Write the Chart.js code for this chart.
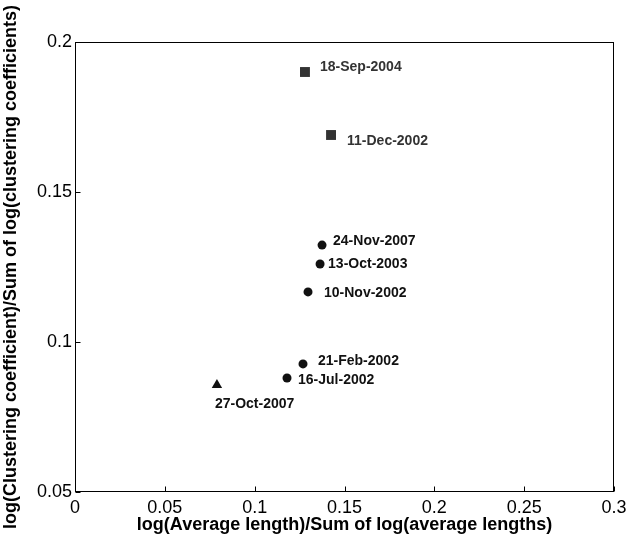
<!DOCTYPE html>
<html>
<head>
<meta charset="utf-8">
<script src="https://cdn.jsdelivr.net/npm/chart.js@4.4.0/dist/chart.umd.min.js"></script>
<style>
  html, body { margin: 0; padding: 0; background: #fff; }
  #wrap { width: 627px; height: 540px; }
</style>
</head>
<body>
<div id="wrap"><canvas id="myChart" width="627" height="540"></canvas></div>
<script>
// values
const dates = ['18-Sep-2004', '11-Dec-2002', '24-Nov-2007', '13-Oct-2003', '10-Nov-2002', '21-Feb-2002', '16-Jul-2002', '27-Oct-2007'];
const xVals = [0.128, 0.1425, 0.1375, 0.1364, 0.1297, 0.1269, 0.118, 0.079];
const yVals = [0.190, 0.169, 0.1323, 0.126, 0.1167, 0.0927, 0.088, 0.0857];
const markerKind = ['square', 'square', 'circle', 'circle', 'circle', 'circle', 'circle', 'triangle'];

const xTickVals = [0, 0.05, 0.1, 0.15, 0.2, 0.25, 0.3];
const xTickLabels = ['0', '0.05', '0.1', '0.15', '0.2', '0.25', '0.3'];
const yTickVals = [0.05, 0.1, 0.15, 0.2];
const yTickLabels = ['0.05', '0.1', '0.15', '0.2'];

// where each date label sits relative to its marker (px)
const labelShift = [[15, -5], [16, 6], [11, -4], [8, 0], [16, 1], [15, -3], [11, 2], [-2, 19]];

const kinds = {
  square:   { pointStyle: 'rect',     radius: 7,   color: '#333' },
  circle:   { pointStyle: 'circle',   radius: 4.5, color: '#111' },
  triangle: { pointStyle: 'triangle', radius: 6,   color: '#111' }
};

const datasets = Object.keys(kinds).map(function (k) {
  const pts = [];
  markerKind.forEach(function (m, i) {
    if (m === k) pts.push({ x: xVals[i], y: yVals[i], idx: i });
  });
  return {
    label: k,
    data: pts,
    pointStyle: kinds[k].pointStyle,
    pointRadius: kinds[k].radius,
    pointBackgroundColor: kinds[k].color,
    pointBorderColor: kinds[k].color,
    pointBorderWidth: 0,
    showLine: false
  };
});

const FONT = "'Liberation Sans', Arial, sans-serif";
Chart.defaults.font.family = FONT;
Chart.defaults.color = '#000';

// box around the axes, inward ticks, and the date labels
const boxAndLabels = {
  id: 'boxAndLabels',
  afterDraw(chart) {
    const ctx = chart.ctx;
    const a = chart.chartArea;
    const xs = chart.scales.x, ys = chart.scales.y;
    ctx.save();
    ctx.strokeStyle = '#000';
    ctx.lineWidth = 1;
    const L = Math.round(a.left) + 0.5, R = Math.round(a.right) - 0.5;
    const T = Math.round(a.top) + 0.5, B = Math.round(a.bottom) - 0.5;
    ctx.strokeRect(L, T, R - L, B - T);
    ctx.beginPath();
    xTickVals.forEach(function (v) {
      const px = Math.round(xs.getPixelForValue(v)) + 0.5;
      ctx.moveTo(px, B); ctx.lineTo(px, B - 5);
    });
    yTickVals.forEach(function (v) {
      const py = Math.round(ys.getPixelForValue(v)) + 0.5;
      ctx.moveTo(L, py); ctx.lineTo(L + 5, py);
    });
    ctx.stroke();

    ctx.font = 'bold 14px ' + FONT;
    ctx.textAlign = 'left';
    ctx.textBaseline = 'middle';
    chart.data.datasets.forEach(function (ds, di) {
      const meta = chart.getDatasetMeta(di);
      meta.data.forEach(function (el, j) {
        const i = ds.data[j].idx;
        ctx.fillStyle = markerKind[i] === 'square' ? '#333' : '#111';
        ctx.fillText(dates[i], el.x + labelShift[i][0], el.y + labelShift[i][1]);
      });
    });
    ctx.restore();
  }
};

new Chart(document.getElementById('myChart'), {
  type: 'scatter',
  data: { datasets: datasets },
  options: {
    responsive: false,
    animation: false,
    layout: { padding: { top: 42, right: 13, left: 0, bottom: 0 } },
    plugins: { legend: { display: false }, tooltip: { enabled: false } },
    scales: {
      x: {
        type: 'linear',
        min: 0, max: 0.3,
        afterBuildTicks: function (s) { s.ticks = xTickVals.map(function (v) { return { value: v }; }); },
        afterFit: function (s) { s.height = 48; s.paddingRight = 13; s.paddingLeft = 0; },
        grid: { display: false, drawTicks: false },
        border: { display: false },
        ticks: {
          padding: 5,
          font: { size: 18 },
          color: '#000',
          maxRotation: 0,
          callback: function (v, i) { return xTickLabels[i]; }
        },
        title: {
          display: true,
          text: 'log(Average length)/Sum of log(average lengths)',
          font: { size: 18, weight: 'bold' },
          color: '#000',
          padding: { top: 0, bottom: 4 }
        }
      },
      y: {
        type: 'linear',
        min: 0.05, max: 0.2,
        afterBuildTicks: function (s) { s.ticks = yTickVals.map(function (v) { return { value: v }; }); },
        afterFit: function (s) { s.width = 75; s.paddingTop = 0; s.paddingBottom = 0; },
        grid: { display: false, drawTicks: false },
        border: { display: false },
        ticks: {
          padding: 3,
          font: { size: 18 },
          color: '#000',
          callback: function (v, i) { return yTickLabels[i]; }
        },
        title: {
          display: true,
          text: 'log(Clustering coefficient)/Sum of log(clustering coefficients)',
          font: { size: 18, weight: 'bold' },
          color: '#000',
          padding: { top: 0, bottom: 0 }
        }
      }
    }
  },
  plugins: [boxAndLabels]
});
</script>
</body>
</html>
